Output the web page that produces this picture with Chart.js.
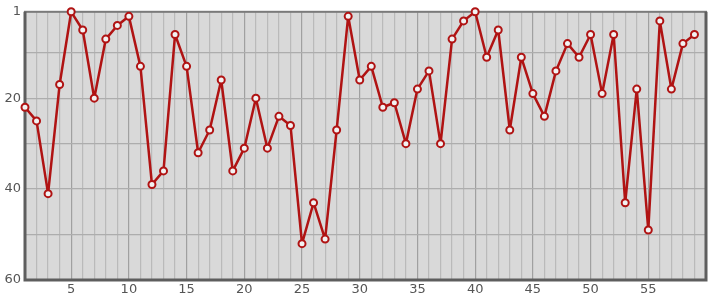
<!DOCTYPE html>
<html>
<head>
<meta charset="utf-8">
<script src="https://cdn.jsdelivr.net/npm/chart.js@4/dist/chart.umd.min.js"></script>
<style>
  html, body { margin: 0; padding: 0; background: #fff; }
  #wrap { width: 715px; height: 300px; }
</style>
</head>
<body>
<div id="wrap"><canvas id="chart"></canvas></div>
<script>
// Values (rank per position, 1 = top)
const positions = [];
for (let i = 1; i <= 59; i++) positions.push(i);
const ranks = [22, 25, 41, 17, 1, 5, 20, 7, 4, 2,
               13, 39, 36, 6, 13, 32, 27, 16, 36, 31,
               20, 31, 24, 26, 52, 43, 51, 27, 2, 16,
               13, 22, 21, 30, 18, 14, 30, 7, 3, 1,
               11, 5, 27, 11, 19, 24, 14, 8, 11, 6,
               19, 6, 43, 18, 49, 3, 18, 8, 6];
const yTicks = [1, 10, 20, 30, 40, 50, 60];
const yLabels = [1, 20, 40, 60];
const xLabels = [5, 10, 15, 20, 25, 30, 35, 40, 45, 50, 55];

// plot background + frame
const framePlugin = {
    id: "frame",
    beforeDraw(chart) {
        const { ctx, chartArea: a } = chart;
        ctx.save();
        ctx.fillStyle = "#d9d9d9";
        ctx.fillRect(a.left, a.top, a.right - a.left, a.bottom - a.top);
        ctx.restore();
    },
    beforeDatasetsDraw(chart) {
        const { ctx, chartArea: a } = chart;
        ctx.save();
        ctx.strokeStyle = "#7a7a7a";
        ctx.lineWidth = 2;
        ctx.strokeRect(a.left, a.top, a.right - a.left, a.bottom - a.top);
        ctx.strokeStyle = "#5e5e5e";
        ctx.lineWidth = 3;
        ctx.beginPath();
        ctx.moveTo(a.left, a.top);
        ctx.lineTo(a.left, a.bottom);
        ctx.lineTo(a.right, a.bottom);
        ctx.lineTo(a.right, a.top);
        ctx.stroke();
        ctx.restore();
    }
};

const ctx = document.getElementById("chart").getContext("2d");
new Chart(ctx, {
    type: "line",
    data: {
        datasets: [{
            data: positions.map((p, i) => ({ x: p, y: ranks[i] })),
            borderColor: "#b01313",
            borderWidth: 2.5,
            borderJoinStyle: "round",
            pointBackgroundColor: "#f2f2f2",
            pointBorderColor: "#b01313",
            pointBorderWidth: 2,
            pointRadius: 3.5,
            tension: 0,
            clip: false
        }]
    },
    options: {
        responsive: true,
        maintainAspectRatio: false,
        animation: false,
        layout: { padding: { top: 10, right: 9, left: 0, bottom: 0 } },
        plugins: {
            legend: { display: false },
            tooltip: { enabled: false }
        },
        scales: {
            x: {
                type: "linear",
                min: 1,
                max: 60,
                afterBuildTicks(axis) {
                    const t = [];
                    for (let v = 1; v <= 60; v++) t.push({ value: v });
                    axis.ticks = t;
                },
                afterFit(axis) { axis.height = 20; },
                ticks: {
                    autoSkip: false,
                    maxRotation: 0,
                    color: "#555",
                    font: { family: "DejaVu Sans", size: 13 },
                    padding: 2,
                    callback: (v) => xLabels.includes(v) ? String(v) : ""
                },
                grid: {
                    drawTicks: false,
                    color: (c) => c.tick && c.tick.value % 5 === 0 ? "#a0a0a0" : "#bababa",
                    lineWidth: 1.2
                },
                border: { display: false }
            },
            y: {
                type: "linear",
                reverse: true,
                min: 1,
                max: 60,
                afterBuildTicks(axis) {
                    axis.ticks = yTicks.map(v => ({ value: v }));
                },
                afterFit(axis) { axis.width = 25; },
                ticks: {
                    autoSkip: false,
                    color: "#555",
                    font: { family: "DejaVu Sans", size: 13 },
                    padding: 4,
                    callback: (v) => yLabels.includes(v) ? String(v) : ""
                },
                grid: {
                    drawTicks: false,
                    color: "#adadad",
                    lineWidth: 1.3
                },
                border: { display: false }
            }
        }
    },
    plugins: [framePlugin]
});
</script>
</body>
</html>
